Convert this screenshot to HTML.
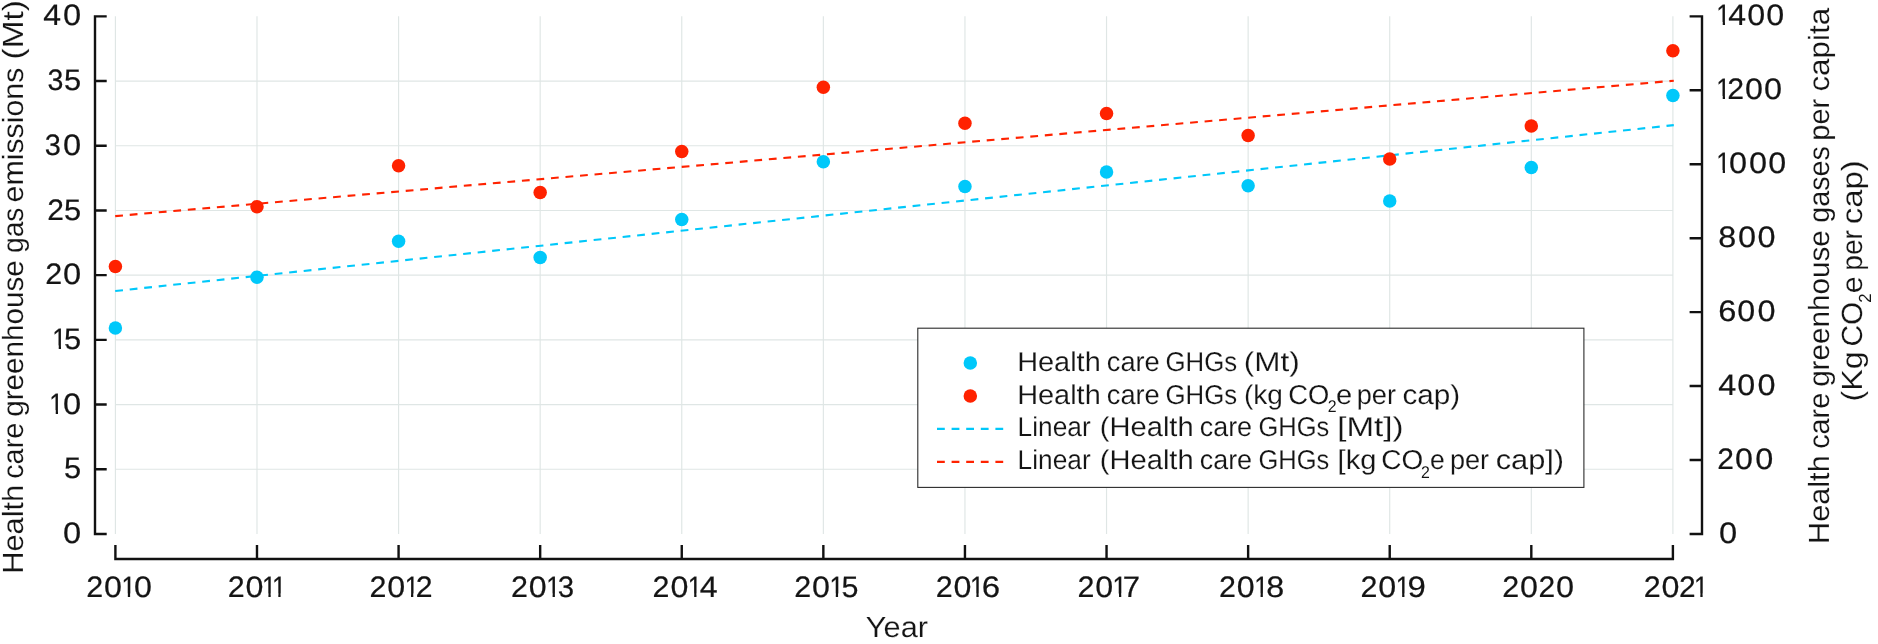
<!DOCTYPE html>
<html lang="en"><head><meta charset="utf-8"><title>Health care greenhouse gas emissions</title>
<style>
html,body{margin:0;padding:0;background:#fff}
body{width:1878px;height:644px;overflow:hidden}
svg{display:block;will-change:transform}
text{white-space:pre;stroke:#fff;stroke-width:.16px}
.n,.n text,tspan.n{stroke:none}
.n text{stroke:#141414;stroke-width:.22px}
</style>
</head><body>
<svg width="1878" height="644" viewBox="0 0 1878 644" font-family="'Liberation Sans', Arial, Helvetica, sans-serif" fill="#141414" text-rendering="geometricPrecision">
<defs><clipPath id="c1"><path clip-rule="evenodd" d="M51.8 322.95H86.1V352.95H51.8ZM53.09 345.55H58.73V350.95H53.09ZM61.02 345.55H66.46V350.95H61.02Z"/></clipPath><clipPath id="c2"><path clip-rule="evenodd" d="M48.8 387.65H86.1V417.65H48.8ZM50.09 410.25H55.73V415.65H50.09ZM58.02 410.25H63.46V415.65H58.02Z"/></clipPath><clipPath id="c3"><path clip-rule="evenodd" d="M1715.8 -0.55H1789V29.45H1715.8ZM1717.09 22.05H1722.73V27.45H1717.09ZM1725.02 22.05H1730.46V27.45H1725.02Z"/></clipPath><clipPath id="c4"><path clip-rule="evenodd" d="M1715.8 73.39H1786.9V103.39H1715.8ZM1717.09 95.99H1722.73V101.39H1717.09ZM1725.02 95.99H1728.8V101.39H1725.02Z"/></clipPath><clipPath id="c5"><path clip-rule="evenodd" d="M1715.8 147.34H1791.1V177.34H1715.8ZM1717.09 169.94H1722.73V175.34H1717.09ZM1725.02 169.94H1730.46V175.34H1725.02Z"/></clipPath><clipPath id="c6"><path clip-rule="evenodd" d="M84.8 571H156.8V601H84.8ZM122.19 593.6H127.83V599H122.19ZM130.12 593.6H135.56V599H130.12Z"/></clipPath><clipPath id="c7"><path clip-rule="evenodd" d="M226.39 571H286.59V601H226.39ZM262.78 593.6H268.42V599H262.78ZM270.71 593.6H278.32V599H270.71ZM280.61 593.6H286.05V599H280.61Z"/></clipPath><clipPath id="c8"><path clip-rule="evenodd" d="M367.98 571H437.18V601H367.98ZM405.37 593.6H411.01V599H405.37ZM413.3 593.6H417.18V599H413.3Z"/></clipPath><clipPath id="c9"><path clip-rule="evenodd" d="M509.57 571H578.97V601H509.57ZM546.96 593.6H552.6V599H546.96ZM554.89 593.6H560.33V599H554.89Z"/></clipPath><clipPath id="c10"><path clip-rule="evenodd" d="M651.16 571H722.86V601H651.16ZM688.55 593.6H694.19V599H688.55ZM696.48 593.6H701.93V599H696.48Z"/></clipPath><clipPath id="c11"><path clip-rule="evenodd" d="M792.75 571H863.25V601H792.75ZM830.15 593.6H835.79V599H830.15ZM838.07 593.6H843.52V599H838.07Z"/></clipPath><clipPath id="c12"><path clip-rule="evenodd" d="M934.35 571H1004.85V601H934.35ZM970.74 593.6H976.38V599H970.74ZM978.67 593.6H984.11V599H978.67Z"/></clipPath><clipPath id="c13"><path clip-rule="evenodd" d="M1075.94 571H1144.54V601H1075.94ZM1113.33 593.6H1118.97V599H1113.33ZM1121.26 593.6H1126.7V599H1121.26Z"/></clipPath><clipPath id="c14"><path clip-rule="evenodd" d="M1217.53 571H1289.13V601H1217.53ZM1254.92 593.6H1260.56V599H1254.92ZM1262.85 593.6H1268.29V599H1262.85Z"/></clipPath><clipPath id="c15"><path clip-rule="evenodd" d="M1359.12 571H1430.22V601H1359.12ZM1396.51 593.6H1402.15V599H1396.51ZM1404.44 593.6H1409.88V599H1404.44Z"/></clipPath><clipPath id="c16"><path clip-rule="evenodd" d="M1642.3 571H1708.6V601H1642.3ZM1694.69 593.6H1700.33V599H1694.69ZM1702.62 593.6H1708.06V599H1702.62Z"/></clipPath></defs>
<rect width="1878" height="644" fill="#fff"/>
<!-- grid -->
<path d="M115.4 16.35V533.95M256.99 16.35V533.95M398.58 16.35V533.95M540.17 16.35V533.95M681.76 16.35V533.95M823.35 16.35V533.95M964.95 16.35V533.95M1106.54 16.35V533.95M1248.13 16.35V533.95M1389.72 16.35V533.95M1531.31 16.35V533.95M1672.9 16.35V533.95M115.4 469.25H1672.9M115.4 404.55H1672.9M115.4 339.85H1672.9M115.4 275.15H1672.9M115.4 210.45H1672.9M115.4 145.75H1672.9M115.4 81.05H1672.9" stroke="#dfe6e5" stroke-width="1.15" fill="none"/>
<!-- axes and ticks -->
<path d="M95 15.15V535.15M95 533.95H106.7M95 469.25H106.7M95 404.55H106.7M95 339.85H106.7M95 275.15H106.7M95 210.45H106.7M95 145.75H106.7M95 81.05H106.7M95 16.35H106.7M1702 15.15V535.15M1702 533.95H1689.6M1702 460.01H1689.6M1702 386.06H1689.6M1702 312.12H1689.6M1702 238.18H1689.6M1702 164.24H1689.6M1702 90.29H1689.6M1702 16.35H1689.6M114.2 559H1674.1M115.4 559V545M256.99 559V545M398.58 559V545M540.17 559V545M681.76 559V545M823.35 559V545M964.95 559V545M1106.54 559V545M1248.13 559V545M1389.72 559V545M1531.31 559V545M1672.9 559V545" stroke="#111" stroke-width="2.4" fill="none"/>
<!-- linear trend lines -->
<path d="M115.2 291L1673.8 125.1" stroke="#00c8fa" stroke-width="2.1" stroke-dasharray="7.8 6.78" fill="none"/>
<path d="M115.2 216.1L1673.8 80.7" stroke="#ff2200" stroke-width="2.1" stroke-dasharray="7.8 6.78" fill="none"/>
<!-- data points -->
<g fill="#00c8fa"><circle cx="115.4" cy="328.0" r="6.75"/><circle cx="256.99" cy="277.3" r="6.75"/><circle cx="398.58" cy="241.3" r="6.75"/><circle cx="540.17" cy="257.4" r="6.75"/><circle cx="681.76" cy="219.5" r="6.75"/><circle cx="823.35" cy="161.8" r="6.75"/><circle cx="964.95" cy="186.4" r="6.75"/><circle cx="1106.54" cy="172.0" r="6.75"/><circle cx="1248.13" cy="185.7" r="6.75"/><circle cx="1389.72" cy="201.0" r="6.75"/><circle cx="1531.31" cy="167.5" r="6.75"/><circle cx="1672.9" cy="95.5" r="6.75"/></g>
<g fill="#ff2200"><circle cx="115.4" cy="266.4" r="6.75"/><circle cx="256.99" cy="206.8" r="6.75"/><circle cx="398.58" cy="165.8" r="6.75"/><circle cx="540.17" cy="192.5" r="6.75"/><circle cx="681.76" cy="151.5" r="6.75"/><circle cx="823.35" cy="87.3" r="6.75"/><circle cx="964.95" cy="123.2" r="6.75"/><circle cx="1106.54" cy="113.6" r="6.75"/><circle cx="1248.13" cy="135.5" r="6.75"/><circle cx="1389.72" cy="159.0" r="6.75"/><circle cx="1531.31" cy="125.9" r="6.75"/><circle cx="1672.9" cy="50.7" r="6.75"/></g>
<!-- tick labels -->
<g font-size="29.6" class="n"><text y="25.45"><tspan x="43.26" lengthAdjust="spacingAndGlyphs" textLength="17.78">4</tspan><tspan x="63.12" lengthAdjust="spacingAndGlyphs" textLength="18.16">0</tspan></text>
<text y="90.15"><tspan x="47.54" lengthAdjust="spacingAndGlyphs" textLength="15.89">3</tspan><tspan x="64.07" lengthAdjust="spacingAndGlyphs" textLength="17.15">5</tspan></text>
<text y="154.85"><tspan x="44.83" lengthAdjust="spacingAndGlyphs" textLength="16.12">3</tspan><tspan x="63.12" lengthAdjust="spacingAndGlyphs" textLength="18.16">0</tspan></text>
<text y="219.55"><tspan x="47.2" lengthAdjust="spacingAndGlyphs" textLength="16.68">2</tspan><tspan x="64.07" lengthAdjust="spacingAndGlyphs" textLength="17.15">5</tspan></text>
<text y="284.25"><tspan x="45.28" lengthAdjust="spacingAndGlyphs" textLength="16.93">2</tspan><tspan x="63.12" lengthAdjust="spacingAndGlyphs" textLength="18.16">0</tspan></text>
<text y="348.95" clip-path="url(#c1)"><tspan x="52.35" lengthAdjust="spacingAndGlyphs" textLength="14.15">1</tspan><tspan x="64.07" lengthAdjust="spacingAndGlyphs" textLength="17.15">5</tspan></text>
<text y="413.65" clip-path="url(#c2)"><tspan x="49.35" lengthAdjust="spacingAndGlyphs" textLength="14.15">1</tspan><tspan x="63.12" lengthAdjust="spacingAndGlyphs" textLength="18.16">0</tspan></text>
<text y="478.35"><tspan x="64.07" lengthAdjust="spacingAndGlyphs" textLength="17.15">5</tspan></text>
<text y="543.05"><tspan x="63.12" lengthAdjust="spacingAndGlyphs" textLength="18.16">0</tspan></text>
<text y="25.45" clip-path="url(#c3)"><tspan x="1716.35" lengthAdjust="spacingAndGlyphs" textLength="14.15">1</tspan><tspan x="1728.26" lengthAdjust="spacingAndGlyphs" textLength="17.78">4</tspan><tspan x="1747.33" lengthAdjust="spacingAndGlyphs" textLength="17.93">0</tspan><tspan x="1766.23" lengthAdjust="spacingAndGlyphs" textLength="17.93">0</tspan></text>
<text y="99.39" clip-path="url(#c4)"><tspan x="1716.35" lengthAdjust="spacingAndGlyphs" textLength="14.15">1</tspan><tspan x="1727.39" lengthAdjust="spacingAndGlyphs" textLength="16.81">2</tspan><tspan x="1745.03" lengthAdjust="spacingAndGlyphs" textLength="17.93">0</tspan><tspan x="1764.03" lengthAdjust="spacingAndGlyphs" textLength="18.05">0</tspan></text>
<text y="173.34" clip-path="url(#c5)"><tspan x="1716.35" lengthAdjust="spacingAndGlyphs" textLength="14.15">1</tspan><tspan x="1728.93" lengthAdjust="spacingAndGlyphs" textLength="18.05">0</tspan><tspan x="1748.93" lengthAdjust="spacingAndGlyphs" textLength="18.05">0</tspan><tspan x="1768.33" lengthAdjust="spacingAndGlyphs" textLength="17.93">0</tspan></text>
<text y="247.28"><tspan x="1718.31" lengthAdjust="spacingAndGlyphs" textLength="17.96">8</tspan><tspan x="1737.93" lengthAdjust="spacingAndGlyphs" textLength="18.05">0</tspan><tspan x="1757.43" lengthAdjust="spacingAndGlyphs" textLength="18.05">0</tspan></text>
<text y="321.22"><tspan x="1718.17" lengthAdjust="spacingAndGlyphs" textLength="18.1">6</tspan><tspan x="1737.33" lengthAdjust="spacingAndGlyphs" textLength="17.93">0</tspan><tspan x="1757.43" lengthAdjust="spacingAndGlyphs" textLength="18.05">0</tspan></text>
<text y="395.16"><tspan x="1718.15" lengthAdjust="spacingAndGlyphs" textLength="17.99">4</tspan><tspan x="1737.33" lengthAdjust="spacingAndGlyphs" textLength="17.93">0</tspan><tspan x="1757.43" lengthAdjust="spacingAndGlyphs" textLength="18.05">0</tspan></text>
<text y="469.11"><tspan x="1717.3" lengthAdjust="spacingAndGlyphs" textLength="16.68">2</tspan><tspan x="1735.13" lengthAdjust="spacingAndGlyphs" textLength="17.93">0</tspan><tspan x="1755.23" lengthAdjust="spacingAndGlyphs" textLength="18.05">0</tspan></text>
<text y="543.05"><tspan x="1718.92" lengthAdjust="spacingAndGlyphs" textLength="18.16">0</tspan></text>
<text y="597" clip-path="url(#c6)"><tspan x="86.28" lengthAdjust="spacingAndGlyphs" textLength="16.93">2</tspan><tspan x="104.03" lengthAdjust="spacingAndGlyphs" textLength="17.93">0</tspan><tspan x="121.45" lengthAdjust="spacingAndGlyphs" textLength="14.15">1</tspan><tspan x="134.03" lengthAdjust="spacingAndGlyphs" textLength="17.93">0</tspan></text>
<text y="597" clip-path="url(#c7)"><tspan x="227.87" lengthAdjust="spacingAndGlyphs" textLength="16.93">2</tspan><tspan x="245.62" lengthAdjust="spacingAndGlyphs" textLength="17.93">0</tspan><tspan x="262.04" lengthAdjust="spacingAndGlyphs" textLength="14.15">1</tspan><tspan x="271.94" lengthAdjust="spacingAndGlyphs" textLength="14.15">1</tspan></text>
<text y="597" clip-path="url(#c8)"><tspan x="369.46" lengthAdjust="spacingAndGlyphs" textLength="16.93">2</tspan><tspan x="387.21" lengthAdjust="spacingAndGlyphs" textLength="17.93">0</tspan><tspan x="404.63" lengthAdjust="spacingAndGlyphs" textLength="14.15">1</tspan><tspan x="415.77" lengthAdjust="spacingAndGlyphs" textLength="16.81">2</tspan></text>
<text y="597" clip-path="url(#c9)"><tspan x="511.05" lengthAdjust="spacingAndGlyphs" textLength="16.93">2</tspan><tspan x="528.81" lengthAdjust="spacingAndGlyphs" textLength="17.93">0</tspan><tspan x="546.23" lengthAdjust="spacingAndGlyphs" textLength="14.15">1</tspan><tspan x="557.69" lengthAdjust="spacingAndGlyphs" textLength="16.34">3</tspan></text>
<text y="597" clip-path="url(#c10)"><tspan x="652.64" lengthAdjust="spacingAndGlyphs" textLength="16.93">2</tspan><tspan x="670.4" lengthAdjust="spacingAndGlyphs" textLength="17.93">0</tspan><tspan x="687.82" lengthAdjust="spacingAndGlyphs" textLength="14.15">1</tspan><tspan x="699.82" lengthAdjust="spacingAndGlyphs" textLength="17.88">4</tspan></text>
<text y="597" clip-path="url(#c11)"><tspan x="794.23" lengthAdjust="spacingAndGlyphs" textLength="16.93">2</tspan><tspan x="811.99" lengthAdjust="spacingAndGlyphs" textLength="17.93">0</tspan><tspan x="829.41" lengthAdjust="spacingAndGlyphs" textLength="14.15">1</tspan><tspan x="841.44" lengthAdjust="spacingAndGlyphs" textLength="16.92">5</tspan></text>
<text y="597" clip-path="url(#c12)"><tspan x="935.82" lengthAdjust="spacingAndGlyphs" textLength="16.93">2</tspan><tspan x="953.58" lengthAdjust="spacingAndGlyphs" textLength="17.93">0</tspan><tspan x="970" lengthAdjust="spacingAndGlyphs" textLength="14.15">1</tspan><tspan x="981.7" lengthAdjust="spacingAndGlyphs" textLength="18.34">6</tspan></text>
<text y="597" clip-path="url(#c13)"><tspan x="1077.41" lengthAdjust="spacingAndGlyphs" textLength="16.93">2</tspan><tspan x="1095.17" lengthAdjust="spacingAndGlyphs" textLength="17.93">0</tspan><tspan x="1112.59" lengthAdjust="spacingAndGlyphs" textLength="14.15">1</tspan><tspan x="1122.68" lengthAdjust="spacingAndGlyphs" textLength="17.29">7</tspan></text>
<text y="597" clip-path="url(#c14)"><tspan x="1219.01" lengthAdjust="spacingAndGlyphs" textLength="16.93">2</tspan><tspan x="1236.76" lengthAdjust="spacingAndGlyphs" textLength="17.93">0</tspan><tspan x="1254.18" lengthAdjust="spacingAndGlyphs" textLength="14.15">1</tspan><tspan x="1266.34" lengthAdjust="spacingAndGlyphs" textLength="17.96">8</tspan></text>
<text y="597" clip-path="url(#c15)"><tspan x="1360.6" lengthAdjust="spacingAndGlyphs" textLength="16.93">2</tspan><tspan x="1378.35" lengthAdjust="spacingAndGlyphs" textLength="17.93">0</tspan><tspan x="1395.77" lengthAdjust="spacingAndGlyphs" textLength="14.15">1</tspan><tspan x="1407.4" lengthAdjust="spacingAndGlyphs" textLength="18.34">9</tspan></text>
<text y="597"><tspan x="1502.19" lengthAdjust="spacingAndGlyphs" textLength="16.93">2</tspan><tspan x="1519.94" lengthAdjust="spacingAndGlyphs" textLength="17.93">0</tspan><tspan x="1538.51" lengthAdjust="spacingAndGlyphs" textLength="16.68">2</tspan><tspan x="1556.04" lengthAdjust="spacingAndGlyphs" textLength="18.05">0</tspan></text>
<text y="597" clip-path="url(#c16)"><tspan x="1643.78" lengthAdjust="spacingAndGlyphs" textLength="16.93">2</tspan><tspan x="1661.53" lengthAdjust="spacingAndGlyphs" textLength="17.93">0</tspan><tspan x="1679.1" lengthAdjust="spacingAndGlyphs" textLength="16.68">2</tspan><tspan x="1693.95" lengthAdjust="spacingAndGlyphs" textLength="14.15">1</tspan></text></g>
<!-- axis titles -->
<text font-size="29.2"><tspan x="865.89" y="636.7" lengthAdjust="spacingAndGlyphs" textLength="62.11">Year</tspan></text>
<text font-size="29.2" transform="translate(23.3 0) rotate(-90)"><tspan x="-573.87" y="0" lengthAdjust="spacingAndGlyphs" textLength="89.1">Health</tspan> <tspan x="-478.86" y="0" lengthAdjust="spacingAndGlyphs" textLength="56.2">care</tspan> <tspan x="-416.79" y="0" lengthAdjust="spacingAndGlyphs" textLength="156.66">greenhouse</tspan> <tspan x="-253.03" y="0" lengthAdjust="spacingAndGlyphs" textLength="45.47">gas</tspan> <tspan x="-202.41" y="0" lengthAdjust="spacingAndGlyphs" textLength="134.72">emissions</tspan> <tspan x="-59.4" y="0" lengthAdjust="spacingAndGlyphs" textLength="59.16">(Mt)</tspan></text>
<text font-size="29.2" transform="translate(1829.3 0) rotate(-90)"><tspan x="-544.06" y="0" lengthAdjust="spacingAndGlyphs" textLength="88.78">Health</tspan> <tspan x="-448.85" y="0" lengthAdjust="spacingAndGlyphs" textLength="55.99">care</tspan> <tspan x="-386.89" y="0" lengthAdjust="spacingAndGlyphs" textLength="156.66">greenhouse</tspan> <tspan x="-222.75" y="0" lengthAdjust="spacingAndGlyphs" textLength="76.71">gases</tspan> <tspan x="-140.74" y="0" lengthAdjust="spacingAndGlyphs" textLength="41.92">per</tspan> <tspan x="-91.55" y="0" lengthAdjust="spacingAndGlyphs" textLength="83.63">capita</tspan></text>
<text font-size="29.2" transform="translate(1862.0 0) rotate(-90)"><tspan x="-401.64" y="0" lengthAdjust="spacingAndGlyphs" textLength="50.36">(Kg</tspan> <tspan x="-346.49" y="0" lengthAdjust="spacingAndGlyphs" textLength="44.82">CO</tspan><tspan x="-302.74" y="9.4" lengthAdjust="spacingAndGlyphs" textLength="9.31" font-size="17.5" class="n">2</tspan><tspan x="-293.32" y="0" lengthAdjust="spacingAndGlyphs" textLength="16.92">e</tspan> <tspan x="-270.69" y="0" lengthAdjust="spacingAndGlyphs" textLength="40.65">per</tspan> <tspan x="-224.32" y="0" lengthAdjust="spacingAndGlyphs" textLength="64.06">cap)</tspan></text>
<!-- legend -->
<rect x="917.8" y="328.2" width="666.1" height="159.2" fill="#fff" stroke="#2b2b2b" stroke-width="1.1"/>
<circle cx="970.3" cy="362.9" r="6.75" fill="#00c8fa"/><circle cx="970.3" cy="395.9" r="6.75" fill="#ff2200"/>
<path d="M937 428.9H1003.2" stroke="#00c8fa" stroke-width="2.1" stroke-dasharray="7.8 6.8" fill="none"/>
<path d="M937 461.9H1003.2" stroke="#ff2200" stroke-width="2.1" stroke-dasharray="7.8 6.8" fill="none"/>
<text font-size="27.4"><tspan x="1017.19" y="371" lengthAdjust="spacingAndGlyphs" textLength="83.53">Health</tspan> <tspan x="1106.81" y="371" lengthAdjust="spacingAndGlyphs" textLength="52.97">care</tspan> <tspan x="1165.51" y="371" lengthAdjust="spacingAndGlyphs" textLength="71.66">GHGs</tspan> <tspan x="1243.81" y="371" lengthAdjust="spacingAndGlyphs" textLength="55.96">(Mt)</tspan></text>
<text font-size="27.4"><tspan x="1017.19" y="403.9" lengthAdjust="spacingAndGlyphs" textLength="83.53">Health</tspan> <tspan x="1106.81" y="403.9" lengthAdjust="spacingAndGlyphs" textLength="52.97">care</tspan> <tspan x="1165.51" y="403.9" lengthAdjust="spacingAndGlyphs" textLength="71.66">GHGs</tspan> <tspan x="1244.02" y="403.9" lengthAdjust="spacingAndGlyphs" textLength="38.96">(kg</tspan> <tspan x="1288.33" y="403.9" lengthAdjust="spacingAndGlyphs" textLength="41.08">CO</tspan><tspan x="1327.81" y="412.3" lengthAdjust="spacingAndGlyphs" textLength="8.83" font-size="17.0" class="n">2</tspan><tspan x="1336.14" y="403.9" lengthAdjust="spacingAndGlyphs" textLength="16.11">e</tspan> <tspan x="1356.67" y="403.9" lengthAdjust="spacingAndGlyphs" textLength="39.28">per</tspan> <tspan x="1402.41" y="403.9" lengthAdjust="spacingAndGlyphs" textLength="57.76">cap)</tspan></text>
<text font-size="27.4"><tspan x="1017.6" y="436.2" lengthAdjust="spacingAndGlyphs" textLength="73.04">Linear</tspan> <tspan x="1099.85" y="436.2" lengthAdjust="spacingAndGlyphs" textLength="93.78">(Health</tspan> <tspan x="1199.72" y="436.2" lengthAdjust="spacingAndGlyphs" textLength="52.35">care</tspan> <tspan x="1258.53" y="436.2" lengthAdjust="spacingAndGlyphs" textLength="70.74">GHGs</tspan> <tspan x="1337.28" y="436.2" lengthAdjust="spacingAndGlyphs" textLength="66.28">[Mt])</tspan></text>
<text font-size="27.4"><tspan x="1017.6" y="469.4" lengthAdjust="spacingAndGlyphs" textLength="73.04">Linear</tspan> <tspan x="1099.85" y="469.4" lengthAdjust="spacingAndGlyphs" textLength="93.78">(Health</tspan> <tspan x="1199.72" y="469.4" lengthAdjust="spacingAndGlyphs" textLength="52.35">care</tspan> <tspan x="1258.53" y="469.4" lengthAdjust="spacingAndGlyphs" textLength="70.74">GHGs</tspan> <tspan x="1337.57" y="469.4" lengthAdjust="spacingAndGlyphs" textLength="38.77">[kg</tspan> <tspan x="1381.2" y="469.4" lengthAdjust="spacingAndGlyphs" textLength="41.94">CO</tspan><tspan x="1420.91" y="477.8" lengthAdjust="spacingAndGlyphs" textLength="8.83" font-size="17.0" class="n">2</tspan><tspan x="1429.94" y="469.4" lengthAdjust="spacingAndGlyphs" textLength="14.71">e</tspan> <tspan x="1449.97" y="469.4" lengthAdjust="spacingAndGlyphs" textLength="39.18">per</tspan> <tspan x="1495.67" y="469.4" lengthAdjust="spacingAndGlyphs" textLength="68.46">cap])</tspan></text>
</svg>
</body></html>
